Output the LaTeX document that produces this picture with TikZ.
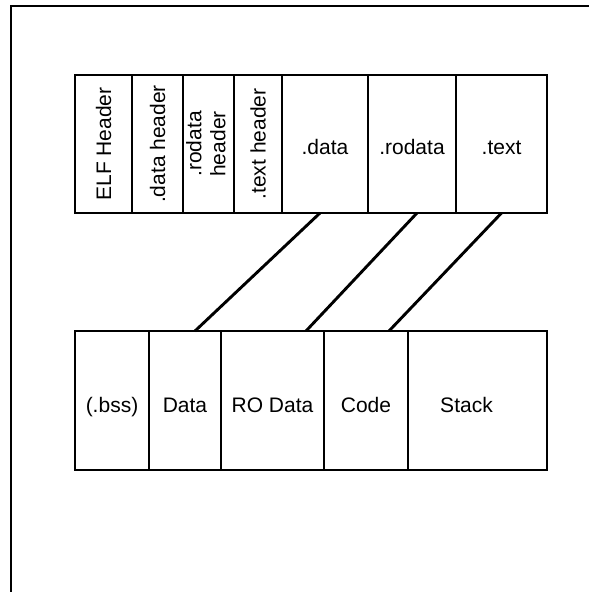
\documentclass[tikz,border=0pt]{standalone}
\usepackage{fontspec}
\setmainfont{Liberation Sans}
\usetikzlibrary{positioning}

\begin{document}
\begin{tikzpicture}[
  x=1pt, y=-1pt,
  line width=2.9pt,
  box/.style={draw, line width=2.9pt, outer sep=0pt, inner sep=0pt,
    minimum height=138pt, font=\fontsize{21}{24}\selectfont},
  section/.style={box, text height=20pt, text depth=0pt},
  seg/.style={box, minimum height=139pt, text height=24pt, text depth=0pt},
]
  \useasboundingbox (0,0) rectangle (589,592);

  % Frame
  \draw (589,6) -- (11,6) -- (11,592);

  % ELF file
  \node[box, minimum width=57pt, anchor=north west] (S1) at (75,75) {\rotatebox{90}{ELF Header}};
  \node[box, minimum width=51pt, right=0pt of S1] (S2) {\rotatebox{90}{.data header}};
  \node[box, minimum width=51pt, right=0pt of S2] (S3)
    {\rotatebox{90}{\begin{tabular}{@{}c@{}}.rodata\\header\end{tabular}}};
  \node[box, minimum width=48pt, right=0pt of S3] (S4) {\rotatebox{90}{.text header}};
  \node[section, minimum width=86pt, right=0pt of S4] (S5) {.data};
  \node[section, minimum width=88pt, right=0pt of S5] (S6) {.rodata};
  \node[section, minimum width=91pt, right=0pt of S6] (S7) {.text};

  % Memory segments
  \node[seg, minimum width=74pt, anchor=north west] (G1) at (75,331) {(.bss)};
  \node[seg, minimum width=72pt, right=0pt of G1] (G2) {Data};
  \node[seg, minimum width=103pt, right=0pt of G2] (G3) {RO Data};
  \node[seg, minimum width=84pt, right=0pt of G3] (G4) {Code};
  \node[seg, minimum width=139pt, right=0pt of G4] (G5) {Stack\kern22pt};

  % Mapping
  \draw ([xshift=-5pt]S5.south) -- ([xshift=10pt]G2.north);
  \draw ([xshift=5pt]S6.south) -- ([xshift=33.5pt]G3.north);
  \draw (S7.south) -- ([xshift=23pt]G4.north);
\end{tikzpicture}
\end{document}
